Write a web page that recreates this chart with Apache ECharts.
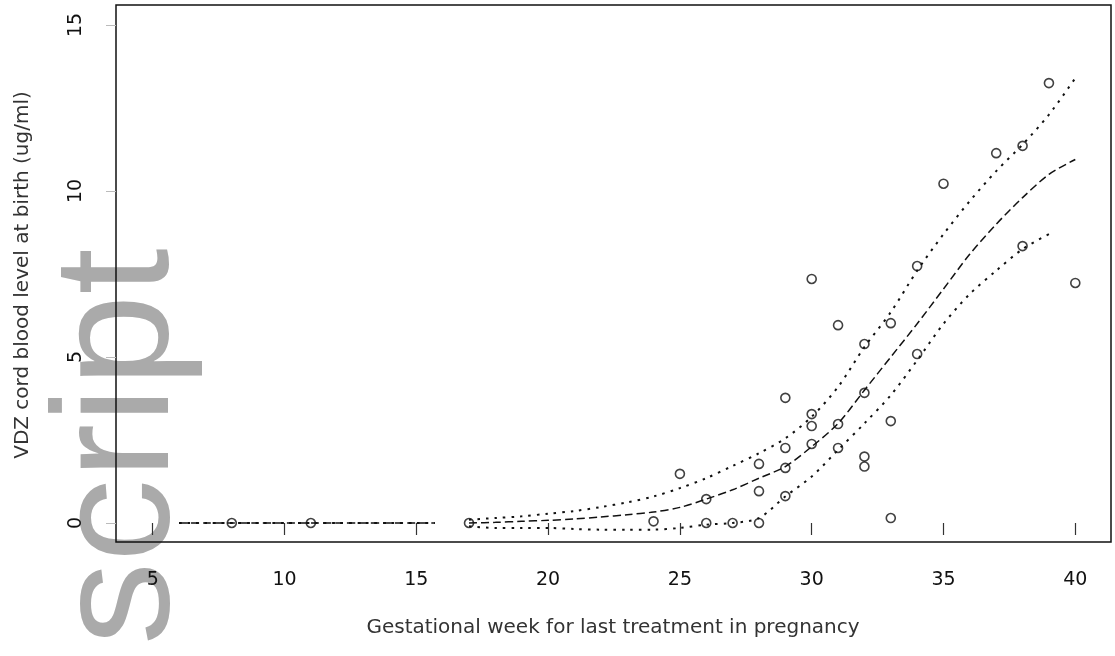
<!DOCTYPE html>
<html>
<head>
<meta charset="utf-8">
<title>VDZ cord blood level by gestational week</title>
<script src="https://cdn.jsdelivr.net/npm/echarts@6/dist/echarts.min.js"></script>
<style>
  html, body { margin: 0; padding: 0; background: #fff; }
  #chart { width: 1115px; height: 656px; }
</style>
</head>
<body>
<div id="chart"></div>
<script>
// observed infants: week of last dose and cord blood level
var weeks = [8, 11, 17, 24, 25, 26, 26, 27, 28, 28, 28, 29, 29, 29, 29,
  30, 30, 30, 30, 31, 31, 31, 32, 32, 32, 32, 33, 33, 33, 34, 34, 35, 37, 38, 38, 39, 40];
var levels = [0, 0, 0, 0.05, 1.48, 0, 0.72, 0, 0, 0.96, 1.78, 3.77, 2.26, 1.66, 0.81,
  7.35, 3.28, 2.92, 2.38, 5.96, 2.98, 2.26, 5.39, 3.92, 2.0, 1.7, 6.02, 3.07, 0.15, 7.74, 5.09, 10.22, 11.14, 11.36, 8.34, 13.25, 7.23];

// fitted curve with its band (null = nothing drawn there)
var curveWeeks = [6, 7, 8, 9, 10, 11, 12, 13, 14, 15, 15.7, 16.3,
  17, 18, 19, 20, 21, 22, 23, 24, 25, 26, 27, 28, 29, 30, 31, 32, 33, 34, 35, 36, 37, 38, 39, 40];
var fitLine = [0, 0, 0, 0, 0, 0, 0, 0, 0, 0, 0, null,
  0, 0.02, 0.05, 0.08, 0.12, 0.18, 0.25, 0.33, 0.47, 0.72, 1.0, 1.35, 1.7, 2.3, 3.0, 4.0, 5.0, 6.0, 7.05, 8.1, 9.0, 9.8, 10.5, 10.95];
var upperBand = [0, 0, 0, 0, 0, 0, 0, 0, 0, 0, 0, null,
  0.1, 0.15, 0.2, 0.28, 0.36, 0.48, 0.62, 0.8, 1.05, 1.35, 1.72, 2.1, 2.55, 3.2, 4.1, 5.3, 6.35, 7.6, 8.7, 9.7, 10.6, 11.4, 12.3, 13.4];
var lowerBand = [0, 0, 0, 0, 0, 0, 0, 0, 0, 0, 0, null,
  -0.1, -0.15, -0.15, -0.15, -0.18, -0.2, -0.2, -0.2, -0.15, -0.05, 0, 0.15, 0.8, 1.4, 2.2, 3.0, 3.85, 4.9, 6.0, 6.9, 7.6, 8.25, 8.7, null];

var xTicks = [5, 10, 15, 20, 25, 30, 35, 40];
var yTicks = [0, 5, 10, 15];

function pairs(xs, ys) {
  return xs.map(function (x, i) {
    return [x, ys[i] == null ? '-' : ys[i]];
  });
}

var chart = echarts.init(document.getElementById('chart'));

var curveStyle = function (type, width) {
  return {
    type: 'line',
    xAxisIndex: 1,
    yAxisIndex: 1,
    showSymbol: false,
    smooth: 0.3,
    clip: false,
    silent: true,
    z: 12,
    lineStyle: { color: '#111', width: width, type: type }
  };
};

var fit = curveStyle([8, 4], 1.5);
fit.data = pairs(curveWeeks, fitLine);
var upper = curveStyle([2.5, 6], 2);
upper.data = pairs(curveWeeks, upperBand);
var lower = curveStyle([2.5, 6], 2);
lower.data = pairs(curveWeeks, lowerBand);

chart.setOption({
  animation: false,
  backgroundColor: '#fff',
  textStyle: { fontFamily: 'DejaVu Sans' },
  graphic: [
    {
      type: 'text',
      z: 1,
      silent: true,
      x: 122,
      y: 645,
      rotation: Math.PI / 2,
      style: {
        text: 'script',
        font: '166px "Liberation Sans"',
        fill: '#aaaaaa',
        textAlign: 'left',
        textVerticalAlign: 'middle'
      }
    },
    {
      type: 'text',
      z: 20,
      x: 613,
      y: 628,
      style: {
        text: 'Gestational week for last treatment in pregnancy',
        font: '20px "DejaVu Sans"',
        fill: '#333',
        textAlign: 'center',
        textVerticalAlign: 'middle'
      }
    },
    {
      type: 'text',
      z: 20,
      x: 23,
      y: 275,
      rotation: Math.PI / 2,
      style: {
        text: 'VDZ cord blood level at birth (ug/ml)',
        font: '20px "DejaVu Sans"',
        fill: '#333',
        textAlign: 'center',
        textVerticalAlign: 'middle'
      }
    }
  ],
  grid: [
    // frame drawn around the plot
    { z: 10, left: 116, top: 5, width: 995, height: 537, show: true, borderColor: '#111', borderWidth: 1.5, backgroundColor: 'transparent' },
    // data area, 5..40 by 0..15
    { z: 10, left: 152.7, right: 39.7, top: 25, bottom: 133 }
  ],
  xAxis: [
    { gridIndex: 0, type: 'value', show: false, min: 0, max: 1 },
    {
      gridIndex: 1,
      z: 10,
      type: 'value',
      min: xTicks[0],
      max: xTicks[xTicks.length - 1],
      interval: xTicks[1] - xTicks[0],
      offset: 19,
      axisLine: { show: false },
      axisTick: { show: true, length: 12, lineStyle: { color: '#333', width: 1.2 } },
      axisLabel: { margin: 29, fontSize: 19, color: '#111', fontFamily: 'DejaVu Sans' },
      splitLine: { show: false }
    }
  ],
  yAxis: [
    { gridIndex: 0, type: 'value', show: false, min: 0, max: 1 },
    {
      gridIndex: 1,
      z: 10,
      type: 'value',
      min: yTicks[0],
      max: yTicks[yTicks.length - 1],
      interval: yTicks[1] - yTicks[0],
      offset: 36.7,
      axisLine: { show: false },
      axisTick: { show: true, length: 10, lineStyle: { color: '#bbb', width: 1 } },
      axisLabel: { margin: 30, rotate: 90, fontSize: 19, color: '#111', fontFamily: 'DejaVu Sans' },
      splitLine: { show: false }
    }
  ],
  series: [
    fit,
    upper,
    lower,
    {
      type: 'scatter',
      xAxisIndex: 1,
      yAxisIndex: 1,
      clip: false,
      z: 13,
      symbol: 'circle',
      symbolSize: 9,
      itemStyle: { color: 'rgba(255,255,255,0)', borderColor: '#111', borderWidth: 1.6 },
      data: pairs(weeks, levels)
    }
  ]
});
</script>
</body>
</html>
